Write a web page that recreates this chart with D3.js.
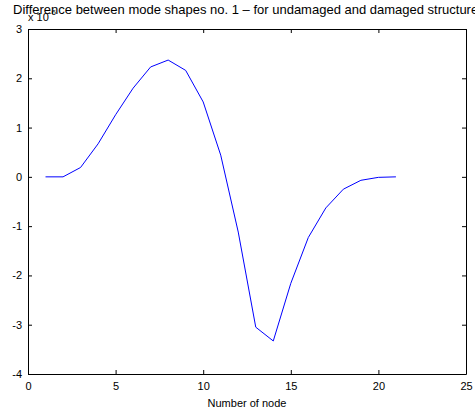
<!DOCTYPE html>
<html lang="en">
<head>
  <meta charset="UTF-8">
  <title>Mode shape difference</title>
  <style>
    body { margin: 0; background: #fff; }
    svg text { font-family: "Liberation Sans", Arial, sans-serif; fill: #000; }
  </style>
</head>
<body>
  <div id="chart"></div>
  <script src="https://d3js.org/d3.v7.min.js"></script>
  <script>
    // node numbers and difference values (x 10^-6)
    const nodes = [1, 2, 3, 4, 5, 6, 7, 8, 9, 10, 11, 12, 13, 14, 15, 16, 17, 18, 19, 20, 21];
    const diff = [0, 0, 0.19, 0.67, 1.26, 1.8, 2.23, 2.37, 2.16, 1.52, 0.44, -1.12, -3.05, -3.33,
                  -2.16, -1.23, -0.63, -0.25, -0.07, -0.01, 0];
    const xTicks = [0, 5, 10, 15, 20, 25];
    const yTicks = [-4, -3, -2, -1, 0, 1, 2, 3];

    const W = 475, H = 410;
    const margin = {top: 29, right: 9, bottom: 36, left: 28};
    const iw = W - margin.left - margin.right;
    const ih = H - margin.top - margin.bottom;

    const svg = d3.select("#chart").append("svg")
      .attr("width", W)
      .attr("height", H);

    const g = svg.append("g")
      .attr("transform", `translate(${margin.left},${margin.top})`);

    const x = d3.scaleLinear().domain([0, 25]).range([0, iw]);
    const y = d3.scaleLinear().domain([-4, 3]).range([ih, 0]);

    // plain hyphen for negatives, like matlab
    const fmt = d => String(d);

    // ticks on all four sides, pointing inward (matlab style)
    const axBottom = g.append("g").attr("transform", `translate(0,${ih})`)
      .call(d3.axisBottom(x).tickValues(xTicks).tickFormat(fmt)
        .tickSizeInner(-4).tickSizeOuter(0).tickPadding(8));
    const axTop = g.append("g")
      .call(d3.axisTop(x).tickValues(xTicks).tickSizeInner(-4).tickSizeOuter(0).tickFormat(""));
    const axLeft = g.append("g")
      .call(d3.axisLeft(y).tickValues(yTicks).tickFormat(fmt)
        .tickSizeInner(-4).tickSizeOuter(0).tickPadding(6));
    const axRight = g.append("g").attr("transform", `translate(${iw},0)`)
      .call(d3.axisRight(y).tickValues(yTicks).tickSizeInner(-4).tickSizeOuter(0).tickFormat(""));

    [axBottom, axTop, axLeft, axRight].forEach(a => {
      a.select(".domain").attr("stroke", "#000");
      a.selectAll(".tick line").attr("stroke", "#000");
      a.selectAll("text").style("font-size", "11px").attr("fill", "#000");
    });

    // the line
    const line = d3.line()
      .x((d, i) => x(nodes[i]))
      .y(d => y(d));

    g.append("path")
      .datum(diff)
      .attr("d", line)
      .attr("fill", "none")
      .attr("stroke", "#0000ff")
      .attr("stroke-width", 1);

    // axis label
    svg.append("text")
      .attr("x", margin.left + iw / 2)
      .attr("y", 407)
      .attr("text-anchor", "middle")
      .style("font-size", "11px")
      .text("Number of node");

    // exponent label
    const ex = svg.append("text")
      .attr("x", 28)
      .attr("y", 21)
      .style("font-size", "11px");
    ex.append("tspan").text("x 10");
    ex.append("tspan").attr("dy", -6).style("font-size", "8px").text("-6");

    // title
    svg.append("text")
      .attr("x", 13)
      .attr("y", 14)
      .style("font-size", "13px")
      .text("Difference between mode shapes no. 1 \u2013 for undamaged and damaged structure");
  </script>
</body>
</html>
